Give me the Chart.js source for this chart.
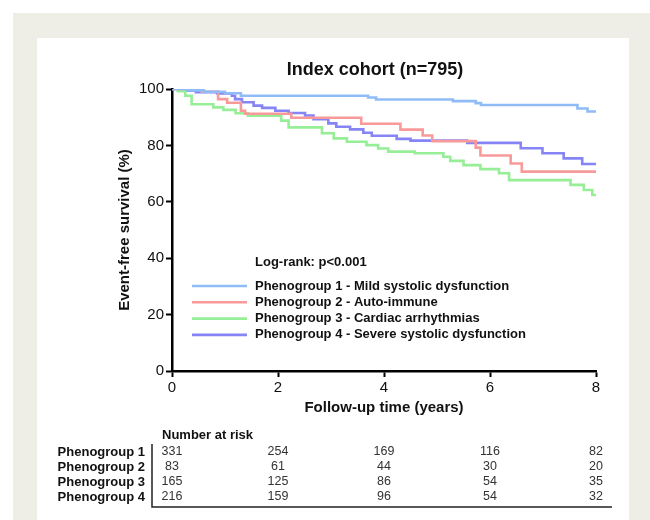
<!doctype html>
<html lang="en">
<head>
<meta charset="utf-8">
<title>Index cohort</title>
<script src="https://cdn.jsdelivr.net/npm/chart.js@4.4.1/dist/chart.umd.min.js"></script>
<style>
  body { margin: 0; background: #fff; }
  .frame { position: absolute; left: 13px; top: 13px; width: 637px; height: 507px; background: #eeeee6; }
  .panel { position: absolute; left: 37px; top: 38px; width: 592px; height: 482px; background: #fff; }
  #km { position: absolute; left: 0; top: 0; }
</style>
</head>
<body>
<div class="frame"></div>
<div class="panel"></div>
<canvas id="km" width="650" height="520"></canvas>

<script>
// Kaplan-Meier curves (time in years, survival in %)
const groupNames = [
  'Phenogroup 1 - Mild systolic dysfunction',
  'Phenogroup 2 - Auto-immune',
  'Phenogroup 3 - Cardiac arrhythmias',
  'Phenogroup 4 - Severe systolic dysfunction'
];
const groupShort = ['Phenogroup 1', 'Phenogroup 2', 'Phenogroup 3', 'Phenogroup 4'];
const groupColors = ['#8fbcf7', '#f99a9a', '#96ee96', '#8585f5'];

const p1Time = [0, 0.3, 0.6, 1.0, 1.3, 3.7, 3.85, 5.3, 5.73, 5.83, 7.65, 7.84, 8];
const p1Surv = [100, 99.5, 99, 98.5, 97.6, 97, 96.3, 95.7, 95, 94.3, 93.1, 92, 92];

const p2Time = [0, 0.56, 0.87, 1.04, 1.3, 1.38, 2.25, 3.57, 4.31, 4.73, 4.91, 5.73, 5.82, 6.39, 6.6, 8];
const p2Surv = [100, 99, 96.4, 95.1, 92.3, 91.2, 89.8, 87.7, 85.6, 83.5, 81.5, 79.2, 76.4, 73.6, 70.7, 70.7];

const p3Time = [0, 0.11, 0.25, 0.37, 0.78, 0.97, 1.2, 1.43, 2.06, 2.2, 2.83, 3.05, 3.3, 3.67, 3.89, 4.08, 4.58, 5.12, 5.25, 5.5, 5.82, 6.17, 6.36, 7.52, 7.77, 7.93, 8];
const p3Surv = [100, 99.2, 97.6, 94.6, 93.5, 92.6, 91.4, 90.5, 88.8, 86.4, 84.3, 82.5, 81.3, 80.1, 78.9, 77.8, 77.2, 76, 74.5, 73, 71.6, 70.1, 67.7, 66, 64.2, 62.4, 62.4];

const p4Time = [0, 0.2, 0.45, 0.85, 1.13, 1.19, 1.32, 1.54, 1.7, 1.95, 2.2, 2.51, 2.67, 2.95, 3.1, 3.36, 3.61, 3.77, 4.24, 4.5, 5.57, 6.58, 6.99, 7.39, 7.74, 8];
const p4Surv = [100, 99.4, 98.9, 98.4, 97.6, 96.4, 95.3, 94.1, 93.3, 92.3, 91.5, 90.6, 89.3, 87.8, 86.6, 85.7, 84.5, 83.4, 82.3, 81.7, 80.9, 79, 77.2, 75.4, 73.4, 73.4];

// number at risk table
const riskTimes = [0, 2, 4, 6, 8];
const risk1 = [331, 254, 169, 116, 82];
const risk2 = [83, 61, 44, 30, 20];
const risk3 = [165, 125, 86, 54, 35];
const risk4 = [216, 159, 96, 54, 32];

const chartTitle = 'Index cohort (n=795)';
const logRankText = 'Log-rank: p<0.001';
const xTitle = 'Follow-up time (years)';
const yTitle = 'Event-free survival (%)';

const FONT = '"Liberation Sans", Arial, sans-serif';

function pts(t, s) {
  return t.map((v, i) => ({ x: v, y: s[i] }));
}

const times = [p1Time, p2Time, p3Time, p4Time];
const survs = [p1Surv, p2Surv, p3Surv, p4Surv];
const risks = [risk1, risk2, risk3, risk4];

// 'before' = horizontal at old value, then drop at the event time
const datasets = groupNames.map((name, i) => ({
  label: name,
  data: pts(times[i], survs[i]),
  borderColor: groupColors[i],
  borderWidth: 2.6,
  stepped: 'before',
  pointRadius: 0,
  fill: false
}));

// extra text: title, legend inside plot, number at risk table
const extras = {
  id: 'extras',
  afterDraw(chart) {
    const ctx = chart.ctx;
    const xs = chart.scales.x;
    ctx.save();
    ctx.fillStyle = '#111';
    ctx.textBaseline = 'middle';

    ctx.font = 'bold 18px ' + FONT;
    ctx.textAlign = 'center';
    ctx.fillText(chartTitle, 375, 70);

    ctx.textAlign = 'left';
    ctx.font = 'bold 13px ' + FONT;
    ctx.fillText(logRankText, 255, 262);
    groupNames.forEach((name, i) => {
      const y = 286 + i * 16.3;
      ctx.strokeStyle = groupColors[i];
      ctx.lineWidth = 2.6;
      ctx.beginPath();
      ctx.moveTo(192, y);
      ctx.lineTo(247, y);
      ctx.stroke();
      ctx.fillStyle = '#111';
      ctx.fillText(name, 255, y);
    });

    // at risk table
    ctx.fillText('Number at risk', 162, 435);
    groupShort.forEach((name, i) => {
      const y = 452 + i * 15;
      ctx.font = 'bold 13px ' + FONT;
      ctx.textAlign = 'right';
      ctx.fillStyle = '#111';
      ctx.fillText(name, 145, y);
      ctx.font = '12.5px ' + FONT;
      ctx.textAlign = 'center';
      ctx.fillStyle = '#333';
      risks[i].forEach((n, j) => {
        ctx.fillText(String(n), xs.getPixelForValue(riskTimes[j]), y);
      });
    });
    ctx.strokeStyle = '#222';
    ctx.lineWidth = 1.5;
    ctx.beginPath();
    ctx.moveTo(152, 444);
    ctx.lineTo(152, 507);
    ctx.lineTo(612, 507);
    ctx.stroke();
    ctx.restore();
  }
};

new Chart(document.getElementById('km').getContext('2d'), {
  type: 'line',
  data: { datasets: datasets },
  plugins: [extras],
  options: {
    responsive: false,
    animation: false,
    layout: { padding: { left: 112, right: 54, top: 89, bottom: 99 } },
    plugins: {
      legend: { display: false },
      title: { display: false },
      tooltip: { enabled: false }
    },
    scales: {
      x: {
        type: 'linear',
        min: 0,
        max: 8,
        afterFit: s => { s.height = 50; },
        ticks: { stepSize: 2, color: '#111', font: { family: FONT, size: 15 }, padding: 2 },
        grid: { drawOnChartArea: false, drawTicks: true, tickLength: 6, tickWidth: 2, tickColor: '#000' },
        border: { color: '#000', width: 2.5 },
        title: { display: true, text: xTitle, color: '#111', font: { family: FONT, size: 15, weight: 'bold' }, padding: { top: 0, bottom: 4 } }
      },
      y: {
        min: 0,
        max: 100,
        afterFit: s => { s.width = 60; },
        ticks: { stepSize: 20, color: '#111', font: { family: FONT, size: 15 }, padding: 2 },
        grid: { drawOnChartArea: false, drawTicks: true, tickLength: 6, tickWidth: 2, tickColor: '#000' },
        border: { color: '#000', width: 2.5 },
        title: { display: true, text: yTitle, color: '#111', font: { family: FONT, size: 15, weight: 'bold' }, padding: { top: 4, bottom: 0 } }
      }
    }
  }
});
</script>
</body>
</html>
